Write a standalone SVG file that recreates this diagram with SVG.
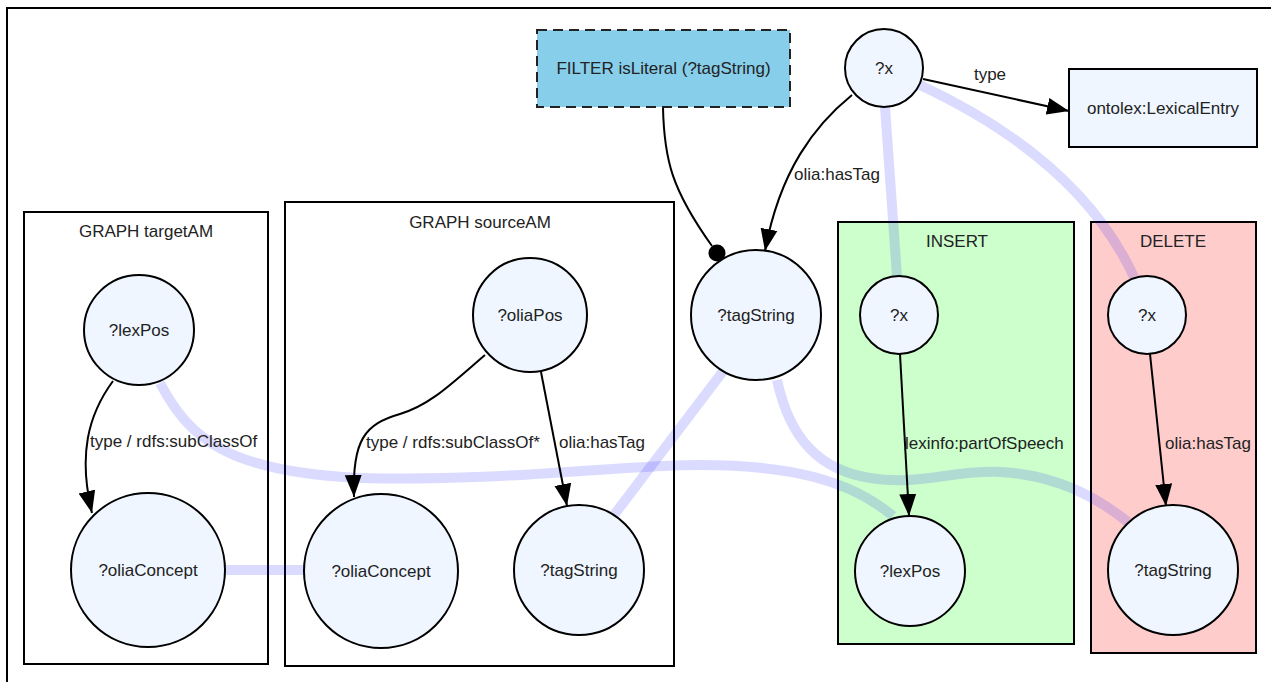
<svg xmlns="http://www.w3.org/2000/svg" width="1271" height="682" viewBox="0 0 1271 682">
<style>
text{font-family:"Liberation Sans",Arial,sans-serif;font-size:17px;fill:#222}
.c{text-anchor:middle}
.node{fill:#eff6ff;stroke:#000;stroke-width:2}
.cl{fill:none;stroke:#000;stroke-width:2}
.e{fill:none;stroke:#000;stroke-width:2}
.m{fill:none;stroke:rgb(0,0,255);stroke-opacity:0.14;stroke-width:10}
</style>
<defs>
<marker id="arr" markerUnits="userSpaceOnUse" markerWidth="24" markerHeight="18" refX="22" refY="9" orient="auto"><path d="M0,0.5 L22,9 L0,17.5 z" fill="#000"/></marker>
</defs>
<rect x="7" y="8" width="1300" height="700" fill="#fff" stroke="#000" stroke-width="2"/>
<g id="clusters">
<g id="cluster-targetAM"><rect class="cl" x="24" y="212" width="244" height="452"/><text class="c" x="146" y="237">GRAPH targetAM</text></g>
<g id="cluster-sourceAM"><rect class="cl" x="285" y="202" width="389" height="464"/><text class="c" x="480" y="228">GRAPH sourceAM</text></g>
<g id="cluster-insert"><rect x="838" y="222" width="236" height="422" fill="#ccffcc" stroke="#000" stroke-width="2"/><text class="c" x="957" y="247">INSERT</text></g>
<g id="cluster-delete"><rect x="1091" y="222" width="165" height="431" fill="#ffcccc" stroke="#000" stroke-width="2"/><text class="c" x="1173" y="247">DELETE</text></g>
</g>
<g id="connectors">
<path class="m" d="M885,107 L897,276"/>
<path class="m" d="M920,85 Q1080,160 1134,277"/>
<path class="m" d="M160,383 C190,440 230,472 360,478 C500,482 620,465 700,465 C790,465 850,480 893,516"/>
<path class="m" d="M224,570 L304,570"/>
<path class="m" d="M724,370 L614,515"/>
<path class="m" d="M777,380 C790,440 820,470 870,478 C920,486 950,470 1000,472 C1060,475 1100,500 1128,522"/>
<path class="e" d="M923,79 L1069,111" marker-end="url(#arr)"/>
<path class="e" d="M852,95 C815,125 780,170 765,251" marker-end="url(#arr)"/>
<path class="e" d="M663,107 C664,160 672,190 712,246"/>
<circle cx="717" cy="253" r="8.5" fill="#000"/>
<path class="e" d="M113,381 C88,415 78,455 92,513" marker-end="url(#arr)"/>
<path class="e" d="M485,355 C450,385 430,405 400,414 C365,424 352,440 354,497" marker-end="url(#arr)"/>
<path class="e" d="M541,372 L567,506" marker-end="url(#arr)"/>
<path class="e" d="M900,354 L909,516" marker-end="url(#arr)"/>
<path class="e" d="M1150,354 L1166,506" marker-end="url(#arr)"/>
<text class="c" x="990" y="80">type</text>
<text x="794" y="180">olia:hasTag</text>
<text x="90" y="447">type / rdfs:subClassOf</text>
<text x="366" y="448">type / rdfs:subClassOf*</text>
<text x="559" y="448">olia:hasTag</text>
<text x="905" y="449">lexinfo:partOfSpeech</text>
<text x="1165" y="449">olia:hasTag</text>
</g>
<g id="filter"><rect x="537" y="30" width="253" height="77" fill="#87ceeb" stroke="#222" stroke-width="2" stroke-dasharray="10,6"/><text class="c" x="663.5" y="74">FILTER isLiteral (?tagString)</text></g>
<g id="x-top"><circle class="node" cx="884" cy="68" r="39"/><text class="c" x="884" y="74">?x</text></g>
<g id="lexicalentry"><rect class="node" x="1069" y="69" width="188" height="78"/><text class="c" x="1163" y="114">ontolex:LexicalEntry</text></g>
<g id="tagstring-top"><circle class="node" cx="756" cy="315" r="65"/><text class="c" x="756" y="321">?tagString</text></g>
<g id="lexpos-target"><circle class="node" cx="139" cy="330" r="55"/><text class="c" x="139" y="336">?lexPos</text></g>
<g id="oliaconcept-target"><circle class="node" cx="148" cy="570" r="77"/><text class="c" x="148" y="576">?oliaConcept</text></g>
<g id="oliapos-source"><circle class="node" cx="530" cy="315" r="57"/><text class="c" x="530" y="321">?oliaPos</text></g>
<g id="oliaconcept-source"><circle class="node" cx="381" cy="571" r="77"/><text class="c" x="381" y="577">?oliaConcept</text></g>
<g id="tagstring-source"><circle class="node" cx="579" cy="570" r="65"/><text class="c" x="579" y="576">?tagString</text></g>
<g id="x-insert"><circle class="node" cx="899" cy="315" r="39"/><text class="c" x="899" y="321">?x</text></g>
<g id="lexpos-insert"><circle class="node" cx="910" cy="571" r="55"/><text class="c" x="910" y="577">?lexPos</text></g>
<g id="x-delete"><circle class="node" cx="1147" cy="315" r="39"/><text class="c" x="1147" y="321">?x</text></g>
<g id="tagstring-delete"><circle class="node" cx="1173" cy="570" r="65"/><text class="c" x="1173" y="576">?tagString</text></g>
</svg>
